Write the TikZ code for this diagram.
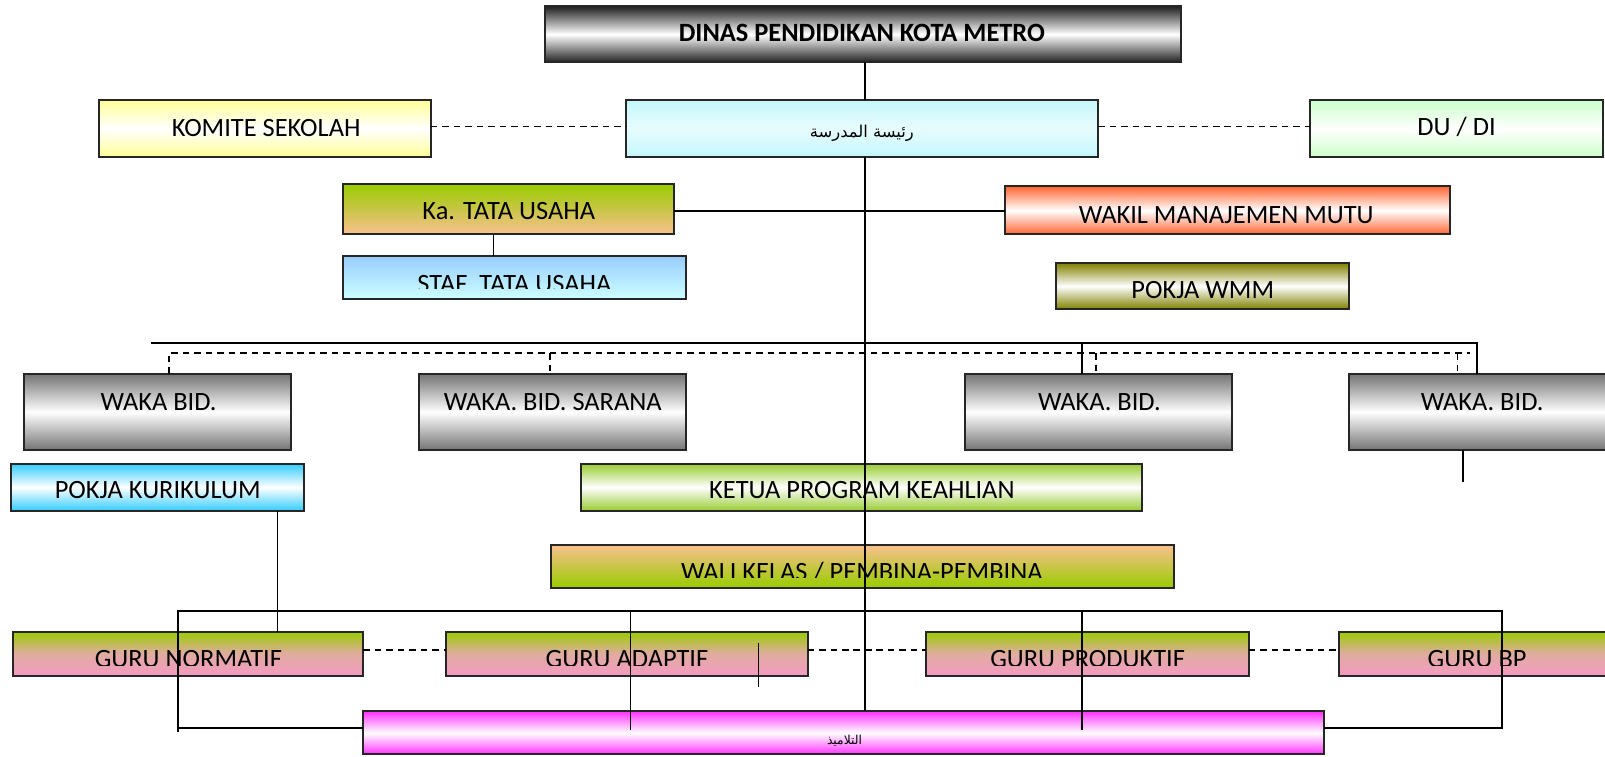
\documentclass[tikz,border=0pt]{standalone}
\usepackage{fontspec}
\setmainfont{Carlito}
\newfontfamily\arabicfont[Script=Arabic]{DejaVu Sans}
\TeXXeTstate=1
\usetikzlibrary{fit}
\definecolor{kyellow}{HTML}{FFFF99}
\definecolor{kcyan}{HTML}{C4F7FB}
\definecolor{kgreenl}{HTML}{CCFFCC}
\definecolor{kgreen}{HTML}{99CC00}
\definecolor{kpeach}{HTML}{FAC090}
\definecolor{kblue}{HTML}{99CCFF}
\definecolor{kbluel}{HTML}{CCFFFF}
\definecolor{korange}{HTML}{FF6633}
\definecolor{kolive}{HTML}{808000}
\definecolor{ksky}{HTML}{33CCFF}
\definecolor{klime}{HTML}{99CC33}
\definecolor{kpink}{HTML}{F49AC1}
\definecolor{kmid}{HTML}{E0ACA0}
\definecolor{kmag}{HTML}{FF33FF}
\begin{document}
\begin{tikzpicture}[x=0.5pt,y=-0.5pt,
  box/.style={draw=black!85, line width=1pt, inner sep=0pt, outer sep=0pt},
  lbl/.style={anchor=base, inner sep=0pt, font=\fontsize{12.9}{15}\selectfont},
  arlbl/.style={inner sep=0pt, font=\arabicfont\fontsize{8}{10}\selectfont},
  conn/.style={line width=0.85pt, black},
  dconn/.style={line width=0.85pt, black, dash pattern=on 3.2pt off 2.4pt},
  sgray/.style={top color=black!55, bottom color=black!55, middle color=white},
  sdark/.style={top color=black!88, bottom color=black!88, middle color=white},
  scyan/.style={top color=kcyan, bottom color=kcyan, middle color=kcyan!40},
  syellow/.style={top color=kyellow, bottom color=kyellow, middle color=white},
  sgreenl/.style={top color=kgreenl, bottom color=kgreenl, middle color=white},
  sgp/.style={top color=kgreen, bottom color=kpeach},
  spg/.style={top color=kpeach, bottom color=kgreen},
  sblue/.style={top color=kblue, bottom color=kbluel},
  sorange/.style={top color=korange, bottom color=korange, middle color=white},
  solive/.style={top color=kolive, bottom color=kolive, middle color=white},
  ssky/.style={top color=ksky, bottom color=ksky, middle color=white},
  slime/.style={top color=klime, bottom color=klime, middle color=white},
  sguru/.style={top color=kgreen, bottom color=kpink, middle color=kmid},
  smag/.style={top color=kmag, bottom color=kmag, middle color=white}]
\clip (0,0) rectangle (1568,739);
% boxes
\node[box, sdark, fit={(532,6) (1154,61)}] (dinas) {};
\node[box, scyan, fit={(612,98) (1073,153)}] (kepala) {};
\node[box, syellow, fit={(97,98) (421,153)}] (komite) {};
\node[box, sgreenl, fit={(1280,98) (1566,153)}] (dudi) {};
\node[box, sgp, fit={(335,180) (658,229)}] (katu) {};
\node[box, sblue, fit={(335,250) (670,292)}] (staf) {};
\node[box, sorange, fit={(982,182) (1417,229)}] (wakil) {};
\node[box, solive, fit={(1032,257) (1318,302)}] (wmm) {};
\node[box, sgray, fit={(23,365) (284,440)}] (waka1) {};
\node[box, sgray, fit={(409,365) (670,440)}] (waka2) {};
\node[box, sgray, fit={(943,365) (1204,440)}] (waka3) {};
\node[box, sgray, fit={(1318,365) (1578,440)}] (waka4) {};
\node[box, ssky, fit={(11,453) (297,499)}] (pkur) {};
\node[box, slime, fit={(568,453) (1116,499)}] (ketua) {};
\node[box, spg, fit={(538,532) (1147,574)}] (wali) {};
\node[box, sguru, fit={(13,617) (355,660)}] (gn) {};
\node[box, sguru, fit={(436,617) (789,660)}] (ga) {};
\node[box, sguru, fit={(905,617) (1220,660)}] (gp) {};
\node[box, sguru, fit={(1308,617) (1578,660)}] (gbp) {};
\node[box, smag, fit={(355,695) (1293,737)}] (siswa) {};
% texts
\node[lbl, font=\bfseries\fontsize{12.9}{15}\selectfont] (tdinas) at (842,41) {DINAS PENDIDIKAN KOTA METRO};
\node[arlbl] (tkepala) at (842,130) {\beginR رئيسة المدرسة\endR};
\node[lbl] (tkomite) at (260,133) {KOMITE SEKOLAH};
\node[lbl] (tdudi) at (1423,132) {DU / DI};
\node[lbl] (tkatu) at (497,214) {Ka. TATA USAHA};
\node[lbl] (twakil) at (1198,218) {WAKIL MANAJEMEN MUTU};
\node[lbl] (twmm) at (1175,292) {POKJA WMM};
\node[lbl] (twaka1) at (155,401) {WAKA BID.};
\node[lbl] (twaka2) at (540,401) {WAKA. BID. SARANA};
\node[lbl] (twaka3) at (1074,401) {WAKA. BID.};
\node[lbl] (twaka4) at (1448,401) {WAKA. BID.};
\node[lbl] (tpkur) at (154,487) {POKJA KURIKULUM};
\node[lbl] (tketua) at (842,487) {KETUA PROGRAM KEAHLIAN};
\node[arlbl, font=\arabicfont\fontsize{6}{8}\selectfont] (tsiswa) at (825,724) {\beginR التلاميذ\endR};
\begin{scope}
  \clip (335,250) rectangle (670,282);
  \node[lbl] (tstaf) at (502.5,286) {STAF~ TATA USAHA};
\end{scope}
\begin{scope}
  \clip (538,532) rectangle (1147,564);
  \node[lbl] (twali) at (842,567) {WALI KELAS / PEMBINA-PEMBINA};
\end{scope}
\begin{scope}
  \clip (0,617) rectangle (1568,650);
  \node[lbl] (tgn) at (184,652.5) {GURU NORMATIF};
  \node[lbl] (tga) at (612.5,652.5) {GURU ADAPTIF};
  \node[lbl] (tgp) at (1062.5,652.5) {GURU PRODUKTIF};
  \node[lbl] (tgbp) at (1443,652.5) {GURU BP};
\end{scope}
% coordinates
\coordinate (ctr) at (845,0);
\coordinate (busL) at (148,335);
\coordinate (busR) at (1443,335);
\coordinate (bus3) at (1057,335);
\coordinate (dL) at (165,345);
\coordinate (dR) at (1436,345);
\coordinate (d2) at (537,345);
\coordinate (d3) at (1071,345);
\coordinate (d4) at (1424,345);
\coordinate (w4end) at (1429,471);
\coordinate (pk) at (271,499);
\coordinate (brL) at (174,597);
\coordinate (brR) at (1467,597);
\coordinate (br2) at (616,597);
\coordinate (br3) at (1057,597);
\coordinate (brLb) at (174,715);
\coordinate (brLh) at (174,711);
\coordinate (brRh) at (1467,711);
\coordinate (br2b) at (616,713);
\coordinate (br3b) at (1057,713);
\coordinate (adT) at (741,628);
\coordinate (adB) at (741,671);
% connectors
\draw[conn] (ctr |- dinas.south) -- (ctr |- kepala.north);
\draw[conn] (ctr |- kepala.south) -- (ctr |- siswa.north);
\draw[dconn] ([yshift=1pt]komite.east) -- ([yshift=1pt]kepala.west);
\draw[dconn] ([yshift=1pt]kepala.east) -- ([yshift=1pt]dudi.west);
\draw[conn] ([yshift=-0.75pt]katu.east) -- ([yshift=-0.75pt]katu.east -| wakil.west);
\draw[conn] ([xshift=-7.25pt]katu.south) -- ([xshift=-7.25pt]katu.south |- staf.north);
\draw[conn] (busL) -- (busR) -- (busR |- waka4.north);
\draw[conn] (bus3) -- (bus3 |- waka3.north);
\draw[dconn] (dL |- waka1.north) -- (dL) -- (dR);
\draw[dconn] (d2) -- (d2 |- waka2.north);
\draw[dconn] (d3) -- (d3 |- waka3.north);
\draw[dconn] (d4) -- (d4 |- waka4.north);
\draw[conn] (w4end |- waka4.south) -- (w4end);
\draw[conn] (pk |- pkur.south) -- (pk |- gn.north);
\draw[conn] (brLb) -- (brL) -- (brR) -- (brRh) -- (brRh -| siswa.east);
\draw[conn] (brLh) -- (brLh -| siswa.west);
\draw[conn] (br2) -- (br2b);
\draw[conn] (br3) -- (br3b);
\draw[conn] (adT) -- (adB);
\draw[dconn] ([yshift=1.75pt]gn.east) -- ([yshift=1.75pt]ga.west);
\draw[dconn] ([yshift=1.75pt]ga.east) -- ([yshift=1.75pt]gp.west);
\draw[dconn] ([yshift=1.75pt]gp.east) -- ([yshift=1.75pt]gbp.west);
\end{tikzpicture}
\end{document}
